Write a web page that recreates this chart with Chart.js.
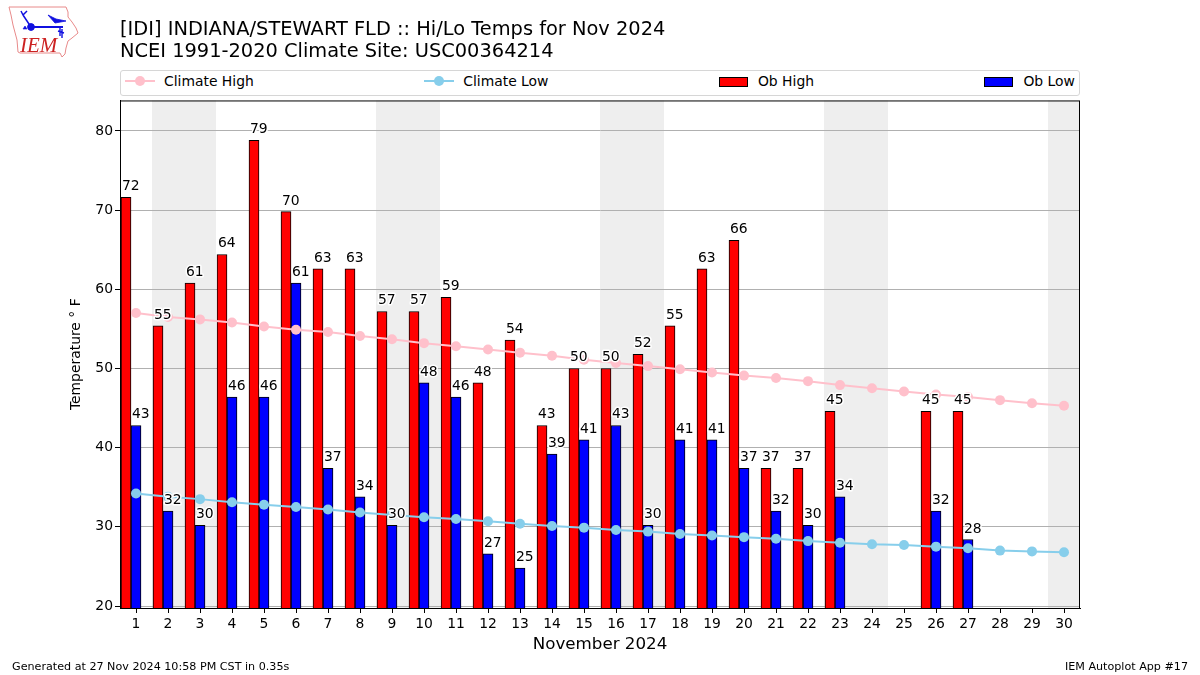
<!DOCTYPE html>
<html>
<head>
<meta charset="utf-8">
<title>IDI Hi/Lo Temps</title>
<script src="https://cdn.jsdelivr.net/npm/chart.js@4"></script>
<style>
  body { margin: 0; background: #fff; font-family: "DejaVu Sans", sans-serif; color: #000; }
  #wrap { position: relative; width: 1200px; height: 675px; overflow: hidden; }
  canvas { position: absolute; left: 0; top: 0; }
  #logo { position: absolute; left: 0; top: 0; }
  #legend {
    position: absolute; left: 120px; top: 70px; width: 958px; height: 24px;
    border: 1px solid #d6d6d6; border-radius: 3px; background: #fff;
    display: flex; justify-content: space-between; align-items: center;
    font-size: 13.9px; box-sizing: content-box;
  }
  .item { display: flex; align-items: center; }
  .item svg { margin-right: 9px; position: relative; top: -1px; }
  .item span { position: relative; top: -2.5px; }
  .item:first-child { margin-left: 4px; }
  .item:last-child { margin-right: 4px; }
  .foot { position: absolute; top: 660px; font-size: 11.15px; }
</style>
</head>
<body>
<div id="wrap">
  <canvas id="tempChart" width="1200" height="675"></canvas>
  <svg id="logo" width="90" height="65" viewBox="0 0 90 65">
    <path d="M9 7 L66 7 L68 12 L68 17 L72 22 L76 28 L78 33 L72 38 L68 41 L66 48 L65 54 L62 57 L60 53 L20 53 L18 52 L17 40 L13 25 L11 15 Z"
      fill="none" stroke="#e88a8a" stroke-width="1"/>
    <g stroke="#1010e0" fill="#1010e0">
      <path d="M31 27 L63 27" stroke-width="2"/>
      <path d="M31 27 L23 15 M23 15 L27 11 M23 15 L21 11" stroke-width="1.5" fill="none"/>
      <circle cx="31" cy="27" r="3.4"/>
      <path d="M48 15 L56 19 L66 21 L55 23 Z" stroke-width="0.8"/>
      <path d="M60 27 L60 36 M62 29 L62 38 M58 31 L64 33" stroke-width="1.4" fill="none"/>
      <path d="M23 29 L25 26 L27 29 Z" stroke-width="0.6"/>
    </g>
    <text x="20" y="52" fill="#cc2222" font-family="Liberation Serif" font-style="italic" font-size="21">IEM</text>
  </svg>
  <div id="legend"></div>
  <div class="foot" style="left:12px">Generated at 27 Nov 2024 10:58 PM CST in 0.35s</div>
  <div class="foot" style="right:12px">IEM Autoplot App #17</div>
</div>
<script>
const days = ["1","2","3","4","5","6","7","8","9","10","11","12","13","14","15","16","17","18","19","20","21","22","23","24","25","26","27","28","29","30"];
const climateHigh = [57.0,56.5,56.2,55.8,55.3,54.9,54.6,54.1,53.7,53.2,52.8,52.4,52.0,51.6,51.1,50.7,50.3,49.9,49.5,49.1,48.8,48.4,47.9,47.5,47.1,46.7,46.4,46.0,45.6,45.3];
const climateLow = [34.2,33.8,33.5,33.1,32.8,32.5,32.2,31.8,31.5,31.2,31.0,30.7,30.4,30.1,29.9,29.6,29.4,29.1,28.9,28.7,28.5,28.2,28.0,27.8,27.7,27.5,27.3,27.0,26.9,26.8];
const obHigh = [71.6,55.4,60.8,64.4,78.8,69.8,62.6,62.6,57.2,57.2,59.0,48.2,53.6,42.8,50.0,50.0,51.8,55.4,62.6,66.2,37.4,37.4,44.6,null,null,44.6,44.6,null,null,null];
const obLow = [42.8,32.0,30.2,46.4,46.4,60.8,37.4,33.8,30.2,48.2,46.4,26.6,24.8,39.2,41.0,42.8,30.2,41.0,41.0,37.4,32.0,30.2,33.8,null,null,32.0,28.4,null,null,null];
const yTickValues = [20,30,40,50,60,70,80];
const weekendDays = [["2","3"],["9","10"],["16","17"],["23","24"],["30","30"]];

Chart.defaults.font.family = "'DejaVu Sans'";
Chart.defaults.color = "#000";
Chart.defaults.animation = false;

// grey weekend stripes, under the grid
const weekendBands = {
  id: "weekendBands",
  beforeDraw(chart) {
    const { ctx, chartArea, scales } = chart;
    ctx.save();
    ctx.fillStyle = "#eeeeee";
    weekendDays.forEach(([first, last]) => {
      const half = scales.x.width / days.length / 2;
      const x0 = scales.x.getPixelForValue(days.indexOf(first)) - half;
      const x1 = scales.x.getPixelForValue(days.indexOf(last)) + half;
      ctx.fillRect(x0, chartArea.top, x1 - x0, chartArea.height);
    });
    ctx.restore();
  },
};

// number over every bar, with a white halo
const barLabels = {
  id: "barLabels",
  afterDatasetsDraw(chart) {
    const ctx = chart.ctx;
    ctx.save();
    ctx.font = "13.9px 'DejaVu Sans'";
    ctx.textAlign = "left";
    ctx.textBaseline = "alphabetic";
    ctx.lineJoin = "round";
    chart.data.datasets.forEach((ds, i) => {
      if (ds.type !== "bar") return;
      chart.getDatasetMeta(i).data.forEach((bar, j) => {
        if (ds.data[j] === null) return;
        const text = String(Math.round(ds.data[j]));
        const x = bar.x - bar.width / 2 + 1;
        const y = bar.y - 7;
        ctx.strokeStyle = "#fff";
        ctx.lineWidth = 3;
        ctx.strokeText(text, x, y);
        ctx.fillStyle = "#000";
        ctx.fillText(text, x, y);
      });
    });
    ctx.restore();
  },
};

const plotFrame = {
  id: "plotFrame",
  afterDraw(chart) {
    const { ctx, chartArea: a } = chart;
    ctx.save();
    ctx.strokeStyle = "#000";
    ctx.lineWidth = 1;
    ctx.strokeRect(a.left + 0.5, a.top + 0.5, a.width - 1, a.height);
    ctx.restore();
  },
};

const barStyle = { type: "bar", borderColor: "#000", borderWidth: 1, barThickness: 10, order: 1 };

const chart = new Chart(document.getElementById("tempChart"), {
  type: "bar",
  data: {
    labels: days,
    datasets: [
      { type: "line", label: "Climate High", data: climateHigh, borderColor: "#ffc0cb", backgroundColor: "#ffc0cb", borderWidth: 2, pointRadius: 5, pointBorderWidth: 0, order: 0 },
      { type: "line", label: "Climate Low", data: climateLow, borderColor: "#87ceeb", backgroundColor: "#87ceeb", borderWidth: 2, pointRadius: 5, pointBorderWidth: 0, order: 0 },
      { ...barStyle, label: "Ob High", data: obHigh, backgroundColor: "#ff0000" },
      { ...barStyle, label: "Ob Low", data: obLow, backgroundColor: "#0000ff" },
      // empty third slot, so the low bar sits on the tick and the high bar left of it
      { ...barStyle, label: "", data: [] },
    ],
  },
  options: {
    responsive: false,
    layout: { padding: { right: 120 } },
    plugins: {
      legend: { display: false },
      tooltip: { enabled: false },
      title: {
        display: true,
        fullSize: false,
        align: "start",
        text: ["[IDI] INDIANA/STEWART FLD :: Hi/Lo Temps for Nov 2024", "NCEI 1991-2020 Climate Site: USC00364214"],
        font: { size: 19.4, weight: "normal", lineHeight: 1.12 },
        padding: { top: 19, bottom: 38 },
      },
    },
    scales: {
      x: {
        grid: { drawOnChartArea: false, offset: false, tickColor: "#000", tickLength: 5 },
        border: { color: "#000" },
        ticks: { font: { size: 13.9 }, padding: 3, maxRotation: 0, autoSkip: false },
        title: { display: true, text: "November 2024", font: { size: 16.7 }, padding: { top: 0, bottom: 20 } },
        afterFit: (scale) => { scale.height = 67; },
      },
      y: {
        min: 19.75,
        max: 83.85,
        grid: { color: "#b0b0b0", tickColor: "#000", tickLength: 5 },
        border: { color: "#000" },
        ticks: { font: { size: 13.9 }, padding: 2 },
        afterBuildTicks: (scale) => { scale.ticks = yTickValues.map((v) => ({ value: v })); },
        title: { display: true, text: "Temperature ° F", font: { size: 13.9 }, padding: { top: 68, bottom: 0 } },
        afterFit: (scale) => { scale.width = 120; },
      },
    },
  },
  plugins: [weekendBands, barLabels, plotFrame],
});

// legend spread over the full plot width, the stock one can't do that
const legendBox = document.getElementById("legend");
chart.data.datasets.filter((ds) => ds.label).forEach((ds) => {
  const marker = ds.type === "line"
    ? `<svg width="30" height="12"><line x1="0" y1="5" x2="30" y2="5" stroke="${ds.borderColor}" stroke-width="2"/><circle cx="15" cy="5" r="5" fill="${ds.backgroundColor}"/></svg>`
    : `<svg width="30" height="12"><rect x="0.5" y="1.5" width="28" height="9" fill="${ds.backgroundColor}" stroke="#000" stroke-width="1"/></svg>`;
  const item = document.createElement("div");
  item.className = "item";
  item.innerHTML = marker + "<span>" + ds.label + "</span>";
  legendBox.appendChild(item);
});
</script>
</body>
</html>
